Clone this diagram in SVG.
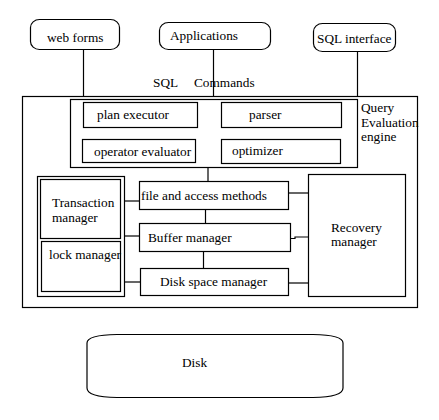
<svg xmlns="http://www.w3.org/2000/svg" width="439" height="420" viewBox="0 0 439 420" font-family="'Liberation Serif', 'Times New Roman', 'DejaVu Serif', serif">
<style>
rect,path{fill:none;stroke:#000;stroke-width:1.2}
line{stroke:#000;stroke-width:1.2}
text{font-family:"Liberation Serif","Times New Roman","DejaVu Serif",serif;font-size:13.3px;fill:#000}
</style>
<rect x="0" y="0" width="439" height="420" style="fill:#fff;stroke:none"/>
<g id="connectors">
<line x1="83.5" y1="49" x2="83.5" y2="96"/>
<line x1="213.5" y1="49" x2="213.5" y2="96"/>
<line x1="357.5" y1="51" x2="357.5" y2="96"/>
<line x1="208" y1="168" x2="208" y2="181"/>
<line x1="205.5" y1="209" x2="205.5" y2="223"/>
<line x1="203.5" y1="251" x2="203.5" y2="268"/>
<line x1="124" y1="201" x2="139" y2="201"/>
<line x1="125" y1="236" x2="139" y2="236"/>
<line x1="125" y1="282" x2="140" y2="282"/>
<line x1="289" y1="193" x2="308" y2="193"/>
<path d="M290 238.5 H295 V237 H308"/>
<line x1="289" y1="283" x2="308" y2="283"/>
</g>
<g id="web-forms">
<rect x="30.5" y="19.5" width="89" height="30" rx="9" ry="8"/>
<text x="47" y="42">web forms</text>
</g>
<g id="applications">
<rect x="159.5" y="22.5" width="111" height="27" rx="9" ry="8"/>
<text x="170" y="40">Applications</text>
</g>
<g id="sql-interface">
<rect x="313.5" y="23.5" width="82" height="28" rx="9" ry="8"/>
<text x="317" y="43">SQL interface</text>
</g>
<g id="sql-commands">
<text x="153" y="87">SQL</text>
<text x="194" y="87">Commands</text>
</g>
<g id="dbms">
<rect x="22.5" y="96.5" width="395" height="211"/>
</g>
<g id="query-evaluation-engine">
<rect x="70.5" y="99.5" width="287" height="68"/>
<text x="361" y="112">Query</text>
<text x="361" y="127">Evaluation</text>
<text x="361" y="141">engine</text>
</g>
<g id="plan-executor">
<rect x="83.5" y="102.5" width="114" height="25"/>
<text x="97" y="119">plan executor</text>
</g>
<g id="parser">
<rect x="221.5" y="102.5" width="120" height="25"/>
<text x="249" y="119">parser</text>
</g>
<g id="operator-evaluator">
<rect x="82.5" y="139.5" width="113" height="23"/>
<text x="94" y="156">operator evaluator</text>
</g>
<g id="optimizer">
<rect x="221.5" y="139.5" width="119" height="24"/>
<text x="232" y="155">optimizer</text>
</g>
<g id="file-access-methods">
<rect x="139.5" y="181.5" width="149" height="28"/>
<text x="141" y="200">file and access methods</text>
</g>
<g id="buffer-manager">
<rect x="139.5" y="223.5" width="151" height="28"/>
<text x="148" y="242">Buffer manager</text>
</g>
<g id="disk-space-manager">
<rect x="140.5" y="268.5" width="148" height="27"/>
<text x="160" y="286">Disk space manager</text>
</g>
<g id="concurrency">
<rect x="37.5" y="176.5" width="87" height="120"/>
</g>
<g id="transaction-manager">
<rect x="40.5" y="179.5" width="80" height="59"/>
<text x="52" y="207">Transaction</text>
<text x="52" y="222">manager</text>
</g>
<g id="lock-manager">
<rect x="41.5" y="241.5" width="79" height="50"/>
<text x="49" y="259">lock manager</text>
</g>
<g id="recovery-manager">
<rect x="308.5" y="174.5" width="97" height="122"/>
<text x="331" y="232">Recovery</text>
<text x="331" y="246">manager</text>
</g>
<g id="disk">
<path d="M117 334.5 H313 Q343 335 343 343 V388 Q343 397 313 397.5 H117 Q87 397 87 388 V343 Q87 335 117 334.5 Z"/>
<text x="182" y="367">Disk</text>
</g>
</svg>
